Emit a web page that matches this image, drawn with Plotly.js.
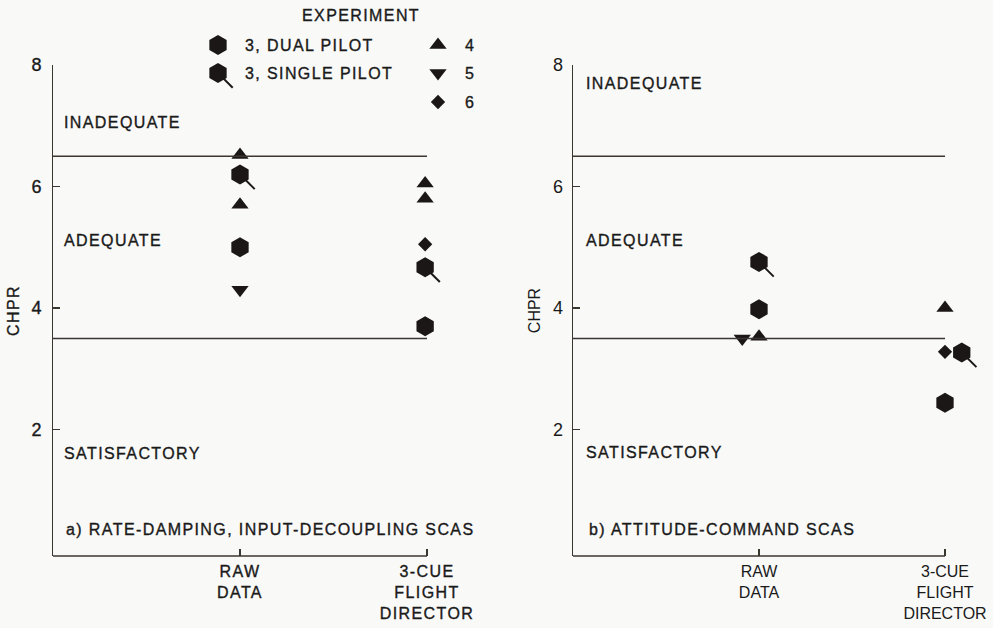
<!DOCTYPE html>
<html>
<head>
<meta charset="utf-8">
<script src="https://cdn.plot.ly/plotly-3.0.1.min.js"></script>
<style>
  html, body { margin: 0; padding: 0; background: #f9f9f7; }
  #chart { width: 993px; height: 628px; }
  .annotation-text, .xtick text, .ytick text, .ytitle { letter-spacing: 1.4px; stroke: #1a1a1a; stroke-width: 0.35px; }
</style>
</head>
<body>
<div id="chart"></div>
<script>
// ---------- DATA ----------
const categoryVals = [1, 2];
const categoryLabels = ['RAW<br>DATA', '3-CUE<br>FLIGHT<br>DIRECTOR'];
const yTicks = [2, 4, 6, 8];
const boundaries = [6.5, 3.5];

// Panel a) rate-damping, input-decoupling SCAS
const aDualX = [1, 1.99];       const aDualY = [5.0, 3.7];
const aSingleX = [1, 1.99];     const aSingleY = [6.2, 4.67];
const aExp4X = [1, 1, 1.99, 1.99]; const aExp4Y = [6.52, 5.7, 6.05, 5.8];
const aExp5X = [1];             const aExp5Y = [4.3];
const aExp6X = [1.99];          const aExp6Y = [5.05];

// Panel b) attitude-command SCAS
const bDualX = [1, 2];          const bDualY = [3.98, 2.44];
const bSingleX = [1, 2.09];     const bSingleY = [4.76, 3.27];
const bExp4X = [1, 2];          const bExp4Y = [3.53, 4.0];
const bExp5X = [0.91];          const bExp5Y = [3.5];
const bExp6X = [2];             const bExp6Y = [3.28];

const regionLabels = ['INADEQUATE', 'ADEQUATE', 'SATISFACTORY'];
const panelCaptions = ['a) RATE-DAMPING, INPUT-DECOUPLING SCAS', 'b) ATTITUDE-COMMAND SCAS'];
const legendTitle = 'EXPERIMENT';
const legendNames = ['3, DUAL PILOT', '3, SINGLE PILOT', '4', '5', '6'];

// ---------- STYLE ----------
const INK = '#1c1717';
const LINE = '#3a3630';
const TXT = '#1a1a1a';
const FONT = 'Liberation Sans, Arial, sans-serif';
const hexSize = 20, triSize = 15, diaSize = 11;

function pts(x, y, symbol, size, xa, ya) {
  return {
    type: 'scatter', mode: 'markers', x: x, y: y, xaxis: xa, yaxis: ya,
    marker: { symbol: symbol, size: size, color: INK, line: { width: 0 } },
    showlegend: false, hoverinfo: 'skip', cliponaxis: false
  };
}
// short diagonal tail to the lower right of the single-pilot hexagon
function tail(x, y, xa, ya) {
  return {
    type: 'scatter', mode: 'markers', x: x, y: y, xaxis: xa, yaxis: ya,
    marker: { symbol: 'line-ns', size: 14, angle: -45, standoff: 11,
              color: INK, line: { width: 2, color: INK } },
    showlegend: false, hoverinfo: 'skip', cliponaxis: false
  };
}

const traces = [
  // panel a
  tail(aSingleX, aSingleY, 'x', 'y'),
  pts(aSingleX, aSingleY, 'hexagon', hexSize, 'x', 'y'),
  pts(aDualX, aDualY, 'hexagon', hexSize, 'x', 'y'),
  pts(aExp4X, aExp4Y, 'triangle-up', triSize, 'x', 'y'),
  pts(aExp5X, aExp5Y, 'triangle-down', triSize, 'x', 'y'),
  pts(aExp6X, aExp6Y, 'diamond', diaSize, 'x', 'y'),
  // panel b
  tail(bSingleX, bSingleY, 'x2', 'y2'),
  pts(bSingleX, bSingleY, 'hexagon', hexSize, 'x2', 'y2'),
  pts(bDualX, bDualY, 'hexagon', hexSize, 'x2', 'y2'),
  pts(bExp4X, bExp4Y, 'triangle-up', triSize, 'x2', 'y2'),
  pts(bExp5X, bExp5Y, 'triangle-down', triSize, 'x2', 'y2'),
  pts(bExp6X, bExp6Y, 'diamond', diaSize, 'x2', 'y2'),
];

// legend key drawn on a pixel-space overlay axis
const legSymCol = [218, 438], legTextCol = [243, 463], legRows = [45, 73, 102];
traces.push(tail([legSymCol[0]], [legRows[1]], 'x3', 'y3'));
traces.push(pts([legSymCol[0], legSymCol[0]], [legRows[0], legRows[1]], 'hexagon', hexSize, 'x3', 'y3'));
traces.push(pts([legSymCol[1]], [legRows[0]], 'triangle-up', triSize, 'x3', 'y3'));
traces.push(pts([legSymCol[1]], [legRows[1]], 'triangle-down', triSize, 'x3', 'y3'));
traces.push(pts([legSymCol[1]], [legRows[2]], 'diamond', diaSize, 'x3', 'y3'));

const W = 993, H = 628;
const xMax = 2.14;                       // a little room right of the last category
const xDomA = [53 / W, (53 + xMax * 187) / W];
const xDomB = [573 / W, (573 + xMax * 186) / W];
const yDom = [(H - 556) / H, (H - 65) / H];

function xAxis(domain, anchor) {
  return {
    domain: domain, anchor: anchor, range: [0, xMax], showgrid: false, zeroline: false,
    showline: false,
    ticks: 'inside', ticklen: 7, tickwidth: 1.5, tickcolor: LINE,
    tickvals: categoryVals, ticktext: categoryLabels,
    tickfont: { family: FONT, size: 16, color: TXT }, ticklabelstandoff: 4
  };
}
function yAxis(anchor) {
  return {
    domain: yDom, anchor: anchor, range: [-0.08, 8], showgrid: false, zeroline: false,
    showline: true, linecolor: LINE, linewidth: 1.5,
    ticks: 'inside', ticklen: 7, tickwidth: 1.5, tickcolor: LINE,
    tickvals: yTicks, tickfont: { family: FONT, size: 18, color: TXT }, ticklabelstandoff: 5,
    title: { text: 'CHPR', font: { family: FONT, size: 16, color: TXT }, standoff: 8 }
  };
}

const shapes = [];
[['x', 'y'], ['x2', 'y2']].forEach(([xa, ya]) => {
  // category axis line, ending at the last category tick
  shapes.push({
    type: 'line', xref: xa, yref: ya + ' domain', x0: 0, x1: categoryVals[categoryVals.length - 1], y0: 0, y1: 0,
    line: { color: LINE, width: 1.5 }
  });
  boundaries.forEach(b => shapes.push({
    type: 'line', xref: xa, yref: ya, x0: 0, x1: categoryVals[categoryVals.length - 1], y0: b, y1: b,
    line: { color: LINE, width: 1.5 }
  }));
});

const txt = (text, x, y, xref, yref, anchor) => ({
  text: text, x: x, y: y, xref: xref, yref: yref, showarrow: false,
  xanchor: anchor || 'left', yanchor: 'middle',
  font: { family: FONT, size: 16, color: TXT }
});

const annotations = [
  txt(regionLabels[0], 0.05, 7.05, 'x', 'y'),
  txt(regionLabels[1], 0.05, 5.12, 'x', 'y'),
  txt(regionLabels[2], 0.05, 1.61, 'x', 'y'),
  txt(panelCaptions[0], 0.06, 0.35, 'x', 'y'),
  txt(regionLabels[0], 0.06, 7.7, 'x2', 'y2'),
  txt(regionLabels[1], 0.06, 5.12, 'x2', 'y2'),
  txt(regionLabels[2], 0.06, 1.62, 'x2', 'y2'),
  txt(panelCaptions[1], 0.075, 0.35, 'x2', 'y2'),
  txt(legendTitle, 361, 15, 'x3', 'y3', 'center'),
  txt(legendNames[0], legTextCol[0], legRows[0], 'x3', 'y3'),
  txt(legendNames[1], legTextCol[0], legRows[1], 'x3', 'y3'),
  txt(legendNames[2], legTextCol[1], legRows[0], 'x3', 'y3'),
  txt(legendNames[3], legTextCol[1], legRows[1], 'x3', 'y3'),
  txt(legendNames[4], legTextCol[1], legRows[2], 'x3', 'y3'),
];

const layout = {
  width: W, height: H,
  margin: { l: 0, r: 0, t: 0, b: 0 },
  paper_bgcolor: '#f9f9f7', plot_bgcolor: 'rgba(0,0,0,0)',
  showlegend: false,
  font: { family: FONT, color: TXT },
  xaxis: xAxis(xDomA, 'y'),
  yaxis: yAxis('x'),
  xaxis2: xAxis(xDomB, 'y2'),
  yaxis2: yAxis('x2'),
  xaxis3: { domain: [0, 1], range: [0, W], anchor: 'y3', visible: false, fixedrange: true },
  yaxis3: { domain: [0, 1], range: [H, 0], anchor: 'x3', visible: false, fixedrange: true },
  shapes: shapes,
  annotations: annotations
};

Plotly.newPlot('chart', traces, layout, { staticPlot: true, displayModeBar: false });
</script>
</body>
</html>
